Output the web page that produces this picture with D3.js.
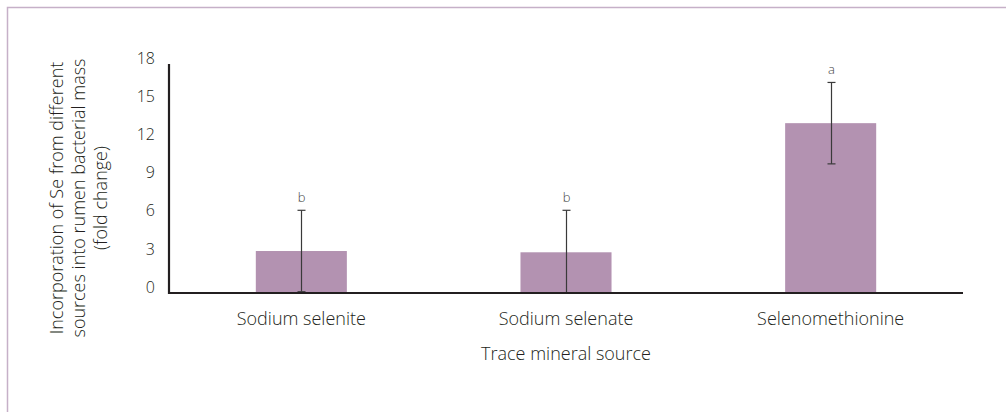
<!DOCTYPE html>
<html><head><meta charset="utf-8">
<script src="https://cdn.jsdelivr.net/npm/d3@7"></script>
<style>
html,body{margin:0;padding:0;background:#fff;}
svg{display:block;}
text{font-family:"Open Sans",sans-serif;fill:#231f20;font-weight:300;}
</style></head>
<body>
<script>
const categories = ["Sodium selenite", "Sodium selenate", "Selenomethionine"];
const means = [3.3, 3.2, 13.35];
const errors = [3.2, 3.3, 3.2];
const letters = ["b", "b", "a"];
const yTicks = [0, 3, 6, 9, 12, 15, 18];
const yLabelLines = ["Incorporation of Se from different", "sources into rumen bacterial mass", "(fold change)"];
const xLabel = "Trace mineral source";

const W = 1006, H = 412;
const svg = d3.select("body").append("svg").attr("width", W).attr("height", H);

// frame border
svg.append("path").attr("d", `M7.5,${H} L7.5,7.5 L${W},7.5`)
  .attr("fill", "none").attr("stroke", "#c6b0c8").attr("stroke-width", 1.5);

const x0 = 169, x1 = 963, yTop = 64, yBot = 293;
const x = d3.scaleBand().domain(categories).range([x0, x1]).padding(0);
const y = d3.scaleLinear().domain([0, 18]).range([yBot, yTop]);
const barW = x.bandwidth() * 0.344;

// bars
svg.selectAll("rect.bar").data(categories).enter().append("rect")
  .attr("class", "bar")
  .attr("x", (d) => x(d) + x.bandwidth() / 2 - barW / 2)
  .attr("width", barW)
  .attr("y", (d, i) => y(means[i]))
  .attr("height", (d, i) => y(0) - y(means[i]))
  .attr("fill", "#b392b1");

// error bars
const eg = svg.append("g").attr("stroke", "#3a3a3a").attr("stroke-width", 1.2);
categories.forEach((c, i) => {
  const cx = Math.round(x(c) + x.bandwidth() / 2) + 0.5;
  const hi = y(means[i] + errors[i]), lo = y(Math.max(0, means[i] - errors[i]));
  eg.append("line").attr("x1", cx).attr("x2", cx).attr("y1", hi).attr("y2", lo);
  eg.append("line").attr("x1", cx - 4).attr("x2", cx + 4).attr("y1", hi).attr("y2", hi);
  eg.append("line").attr("x1", cx - 4).attr("x2", cx + 4).attr("y1", lo).attr("y2", lo);
  svg.append("text").attr("x", cx).attr("y", hi - 8).attr("text-anchor", "middle")
    .attr("font-size", 13).style("fill", "#444").text(letters[i]);
});

// y axis
const yAxis = d3.axisLeft(y).tickValues(yTicks).tickSize(0).tickPadding(14);
const gy = svg.append("g").attr("transform", `translate(${x0},0)`).call(yAxis);
gy.select(".domain").remove();
gy.selectAll("text").attr("font-size", 16).attr("dy", "0.2em").attr("y", -4)
  .style("font-family", '"Open Sans",sans-serif').style("font-weight", 300).style("fill", "#231f20");

// axis lines
svg.append("path").attr("d", `M${x0},${yTop} L${x0},${yBot} L${x1},${yBot}`)
  .attr("fill", "none").attr("stroke", "#231f20").attr("stroke-width", 2.2);

// x axis labels
const xAxis = d3.axisBottom(x).tickSize(0).tickPadding(19);
const gx = svg.append("g").attr("transform", `translate(0,${yBot})`).call(xAxis);
gx.select(".domain").remove();
gx.selectAll("text").attr("font-size", 18).style("font-family", '"Open Sans",sans-serif')
  .style("font-weight", 300).style("fill", "#231f20");

svg.append("text").attr("x", (x0 + x1) / 2).attr("y", 360).attr("text-anchor", "middle")
  .attr("font-size", 18).text(xLabel);

// y label
const yl = svg.append("g").attr("transform", "translate(0,198) rotate(-90)");
yLabelLines.forEach((t, i) => {
  yl.append("text").attr("x", 0).attr("y", 63 + i * 22).attr("text-anchor", "middle")
    .attr("font-size", 18).text(t);
});
</script>
</body></html>
